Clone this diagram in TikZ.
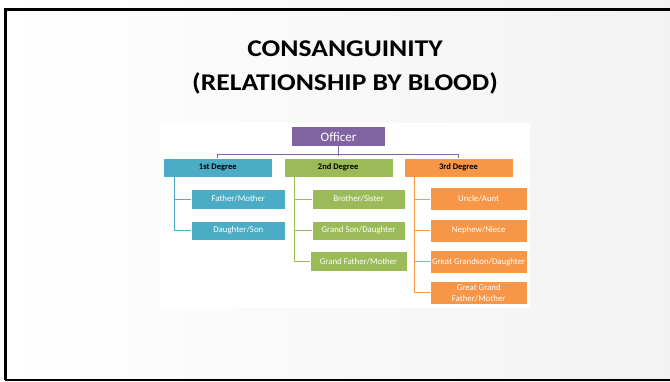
\documentclass[tikz,border=0pt]{standalone}
\usepackage{fontspec}
\setmainfont{Carlito}
\usepackage{tikz}
\usetikzlibrary{positioning}

\definecolor{offpurple}{HTML}{8064A2}
\definecolor{degblue}{HTML}{4BACC6}
\definecolor{deggreen}{HTML}{9BBB59}
\definecolor{degorange}{HTML}{F79646}

\begin{document}
\begin{tikzpicture}[x=1pt, y=-1pt,
every node/.style={inner sep = 0pt, outer sep = 0pt},
degbox/.style={draw = white, line width = .4pt, minimum width = 109pt,
minimum height = 19.5pt, font = \fontsize{8.5}{9}\selectfont\bfseries},
kinbox/.style={draw = white, line width = .4pt, text = white,
minimum height = 19.5pt, align = center,
font = \fontsize{8.8}{10.5}\selectfont}]
\useasboundingbox (0,0) rectangle (670,381);
\shade[left color = white, right color = black!5] (-5,-5) rectangle (680,390);
\draw[line width = 3pt] (680,9) -- (5,9) -- (5,380);
\draw[line width = 2pt] (5,380) -- (680,380);
\node[align = center, xscale = 1.15, transform shape,
font = \fontsize{24}{34.5}\selectfont\bfseries] (title) at (345,67.5)
{CONSANGUINITY\\(RELATIONSHIP BY BLOOD)};
\fill[white] (160,123) rectangle (530,308);
% top of the chart
\node[fill = offpurple, text = white, minimum width = 93pt, minimum height = 19pt,
font = \fontsize{13}{14}\selectfont] (off) at (338.5,136.7) {Officer};
\node[degbox, fill = degblue] (d1) at (217.8,167.5) {1st Degree};
\node[degbox, fill = deggreen] (d2) at (338.2,167.5) {2nd Degree};
\node[degbox, fill = degorange] (d3) at (458.5,167.5) {3rd Degree};
\draw[offpurple, line width = 1pt] (d1.north) -- ++(0,-3.5) -| (d3.north);
\draw[offpurple, line width = 1pt] (off.south) -- ++(0,9.5);
% first degree
\foreach \n/\y/\t in {a/199/Father\slash Mother, b/230.5/Daughter\slash Son}{
\node[kinbox, fill = degblue, minimum width = 94pt] (k1\n) at (238.3,\y) {\t};}
% second degree
\foreach \n/\y/\w/\t in {a/199/93.5/Brother\slash Sister, b/230.5/93.5/Grand Son\slash Daughter,
c/261.3/97/Grand Father\slash Mother}{
\node[kinbox, fill = deggreen, minimum width = \w pt] (k2\n) at (358.6,\y) {\t};}
% third degree
\foreach \n/\y/\h/\t in {a/199/23/Uncle\slash Aunt, b/230.3/23/Nephew\slash Niece,
c/261.7/23/Great Grandson\slash Daughter, d/292.9/22.5/{Great Grand\\Father\slash Mother}}{
\node[kinbox, fill = degorange, minimum width = 97pt, minimum height = \h pt] (k3\n) at (478.7,\y) {\t};}
% connectors
\draw[degblue, line width = 1pt] (d1.south -| 174,0) |- (k1b.west);
\draw[degblue, line width = 1pt] (k1a.west) -- (k1a.west -| 174,0);
\draw[deggreen, line width = 1pt] (d2.south -| 294,0) |- (k2c.west);
\foreach \n in {a, b}{
\draw[deggreen, line width = 1pt] (k2\n.west) -- (k2\n.west -| 294,0);}
\draw[degorange, line width = 1pt] (d3.south -| 414.3,0) |- (k3d.west);
\foreach \n in {a, b, c}{
\draw[degorange, line width = 1pt] (k3\n.west) -- (k3\n.west -| 414.3,0);}
\end{tikzpicture}
\end{document}
